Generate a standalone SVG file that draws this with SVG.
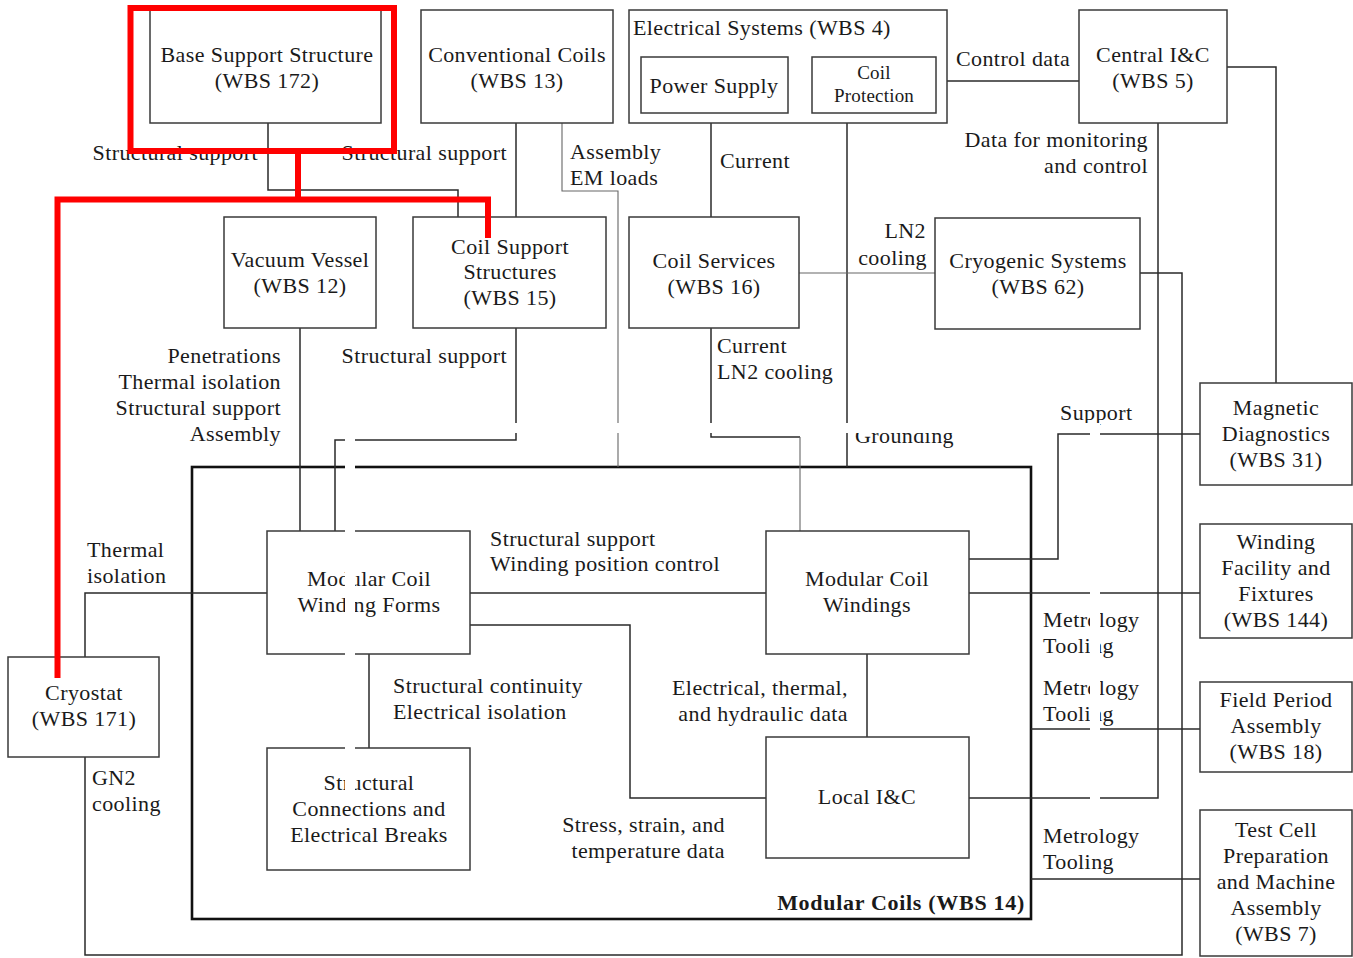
<svg xmlns="http://www.w3.org/2000/svg" width="1353" height="958" viewBox="0 0 1353 958">
<style>
.box{fill:#fff;stroke:#3a3a3a;stroke-width:1.5}
.big{fill:none;stroke:#111;stroke-width:2.6}
.ln{fill:none;stroke:#2a2a2a;stroke-width:1.5}
.thin{fill:none;stroke:#666;stroke-width:1.1}
.red{fill:none;stroke:#ff0000;stroke-width:6}
.gap{fill:#fff;stroke:none}
text{font-family:"Liberation Serif","Times New Roman",serif;font-size:22px;fill:#1a1a1a;letter-spacing:0.4px}
.m{text-anchor:middle}
.e{text-anchor:end}
.s{font-size:19px;letter-spacing:0.2px}
.b{font-weight:bold;letter-spacing:0.7px}
</style>
<rect width="1353" height="958" fill="#fff"/>

<g id="modular-coils">
<rect class="big" x="192" y="467" width="839" height="452"/>
<text class="b e" x="1025" y="910">Modular Coils (WBS 14)</text>
</g>

<g id="connectors">
<path class="ln" d="M268,123 V190 H458 V217"/>
<path class="ln" d="M516,123 V217"/>
<path class="thin" d="M562,123 V191 H618 V467"/>
<path class="ln" d="M787,81 H812"/>
<path class="ln" d="M936,81 H1079"/>
<path class="ln" d="M711,113 V217"/>
<path class="ln" d="M847,113 V467"/>
<path class="thin" d="M799,273 H935"/>
<path class="ln" d="M711,328 V437 H800"/>
<path class="thin" d="M800,437 V531"/>
<path class="ln" d="M1227,67 H1276 V383"/>
<path class="ln" d="M1158,123 V798 H969"/>
<path class="ln" d="M1140,273 H1182 V955 H85 V757"/>
<path class="ln" d="M300,328 V531"/>
<path class="ln" d="M516,328 V440 H335 V531"/>
<path class="ln" d="M85,657 V593 H267"/>
<path class="ln" d="M470,593 H766"/>
<path class="ln" d="M470,625 H630 V798 H766"/>
<path class="ln" d="M867,654 V737"/>
<path class="ln" d="M369,654 V748"/>
<path class="ln" d="M969,559 H1058 V434 H1200"/>
<path class="ln" d="M969,593 H1200"/>
<path class="ln" d="M1031,729 H1200"/>
<path class="ln" d="M1031,879 H1200"/>
</g>

<g id="base-support">
<rect class="box" x="150" y="10" width="231" height="113"/>
<text class="m" x="267" y="62">Base Support Structure</text>
<text class="m" x="267" y="88">(WBS 172)</text>
</g>
<g id="conventional-coils">
<rect class="box" x="421" y="10" width="192" height="113"/>
<text class="m" x="517" y="62">Conventional Coils</text>
<text class="m" x="517" y="88">(WBS 13)</text>
</g>
<g id="electrical-systems">
<rect class="box" x="629" y="10" width="318" height="113"/>
<text x="633" y="35">Electrical Systems (WBS 4)</text>
</g>
<g id="power-supply">
<rect class="box" x="641" y="57" width="147" height="56"/>
<text class="m" x="714" y="93">Power Supply</text>
</g>
<g id="coil-protection">
<rect class="box" x="812" y="57" width="124" height="56"/>
<text class="m s" x="874" y="79">Coil</text>
<text class="m s" x="874" y="102">Protection</text>
</g>
<g id="central-ic">
<rect class="box" x="1079" y="10" width="148" height="113"/>
<text class="m" x="1153" y="62">Central I&amp;C</text>
<text class="m" x="1153" y="88">(WBS 5)</text>
</g>
<g id="vacuum-vessel">
<rect class="box" x="224" y="217" width="152" height="111"/>
<text class="m" x="300" y="267">Vacuum Vessel</text>
<text class="m" x="300" y="293">(WBS 12)</text>
</g>
<g id="coil-support">
<rect class="box" x="413" y="217" width="193" height="111"/>
<text class="m" x="510" y="254">Coil Support</text>
<text class="m" x="510" y="279">Structures</text>
<text class="m" x="510" y="305">(WBS 15)</text>
</g>
<g id="coil-services">
<rect class="box" x="629" y="217" width="170" height="111"/>
<text class="m" x="714" y="268">Coil Services</text>
<text class="m" x="714" y="294">(WBS 16)</text>
</g>
<g id="cryogenic-systems">
<rect class="box" x="935" y="218" width="205" height="111"/>
<text class="m" x="1038" y="268">Cryogenic Systems</text>
<text class="m" x="1038" y="294">(WBS 62)</text>
</g>
<g id="magnetic-diagnostics">
<rect class="box" x="1200" y="383" width="152" height="102"/>
<text class="m" x="1276" y="415">Magnetic</text>
<text class="m" x="1276" y="441">Diagnostics</text>
<text class="m" x="1276" y="467">(WBS 31)</text>
</g>
<g id="winding-facility">
<rect class="box" x="1200" y="524" width="152" height="114"/>
<text class="m" x="1276" y="549">Winding</text>
<text class="m" x="1276" y="575">Facility and</text>
<text class="m" x="1276" y="601">Fixtures</text>
<text class="m" x="1276" y="627">(WBS 144)</text>
</g>
<g id="field-period">
<rect class="box" x="1200" y="682" width="152" height="90"/>
<text class="m" x="1276" y="707">Field Period</text>
<text class="m" x="1276" y="733">Assembly</text>
<text class="m" x="1276" y="759">(WBS 18)</text>
</g>
<g id="test-cell">
<rect class="box" x="1200" y="810" width="152" height="146"/>
<text class="m" x="1276" y="837">Test Cell</text>
<text class="m" x="1276" y="863">Preparation</text>
<text class="m" x="1276" y="889">and Machine</text>
<text class="m" x="1276" y="915">Assembly</text>
<text class="m" x="1276" y="941">(WBS 7)</text>
</g>
<g id="winding-forms">
<rect class="box" x="267" y="531" width="203" height="123"/>
<text class="m" x="369" y="586">Modular Coil</text>
<text class="m" x="369" y="612">Winding Forms</text>
</g>
<g id="coil-windings">
<rect class="box" x="766" y="531" width="203" height="123"/>
<text class="m" x="867" y="586">Modular Coil</text>
<text class="m" x="867" y="612">Windings</text>
</g>
<g id="structural-connections">
<rect class="box" x="267" y="748" width="203" height="122"/>
<text class="m" x="369" y="790">Structural</text>
<text class="m" x="369" y="816">Connections and</text>
<text class="m" x="369" y="842">Electrical Breaks</text>
</g>
<g id="local-ic">
<rect class="box" x="766" y="737" width="203" height="121"/>
<text class="m" x="867" y="804">Local I&amp;C</text>
</g>
<g id="cryostat">
<rect class="box" x="8" y="657" width="151" height="100"/>
<text class="m" x="84" y="700">Cryostat</text>
<text class="m" x="84" y="726">(WBS 171)</text>
</g>

<g id="labels">
<text class="e" x="258" y="160">Structural support</text>
<text class="e" x="507" y="160">Structural support</text>
<text x="570" y="159">Assembly</text>
<text x="570" y="185">EM loads</text>
<text x="720" y="168">Current</text>
<text x="956" y="66">Control data</text>
<text class="e" x="1148" y="147">Data for monitoring</text>
<text class="e" x="1148" y="173">and control</text>
<text class="e" x="926" y="238">LN2</text>
<text class="e" x="927" y="265">cooling</text>
<text class="e" x="281" y="363">Penetrations</text>
<text class="e" x="281" y="389">Thermal isolation</text>
<text class="e" x="281" y="415">Structural support</text>
<text class="e" x="281" y="441">Assembly</text>
<text class="e" x="507" y="363">Structural support</text>
<text x="717" y="353">Current</text>
<text x="717" y="379">LN2 cooling</text>
<text x="855" y="443">Grounding</text>
<text x="1060" y="420">Support</text>
<text x="87" y="557">Thermal</text>
<text x="87" y="583">isolation</text>
<text x="490" y="546">Structural support</text>
<text x="490" y="571">Winding position control</text>
<text x="393" y="693">Structural continuity</text>
<text x="393" y="719">Electrical isolation</text>
<text class="e" x="848" y="695">Electrical, thermal,</text>
<text class="e" x="848" y="721">and hydraulic data</text>
<text class="e" x="725" y="832">Stress, strain, and</text>
<text class="e" x="725" y="858">temperature data</text>
<text x="1043" y="627">Metrology</text>
<text x="1043" y="653">Tooling</text>
<text x="1043" y="695">Metrology</text>
<text x="1043" y="721">Tooling</text>
<text x="1043" y="843">Metrology</text>
<text x="1043" y="869">Tooling</text>
<text x="92" y="785">GN2</text>
<text x="92" y="811">cooling</text>
</g>

<g id="seams">
<rect class="gap" x="345" y="423" width="755" height="10"/>
<rect class="gap" x="345" y="423" width="10" height="372"/>
<rect class="gap" x="1090" y="423" width="10" height="377"/>
</g>

<g id="highlight">
<rect class="red" x="130.5" y="8" width="263.5" height="143"/>
<path class="red" d="M298,151 V199.5"/>
<path class="red" d="M57.5,678 V199.5 H488 V238"/>
</g>
</svg>
